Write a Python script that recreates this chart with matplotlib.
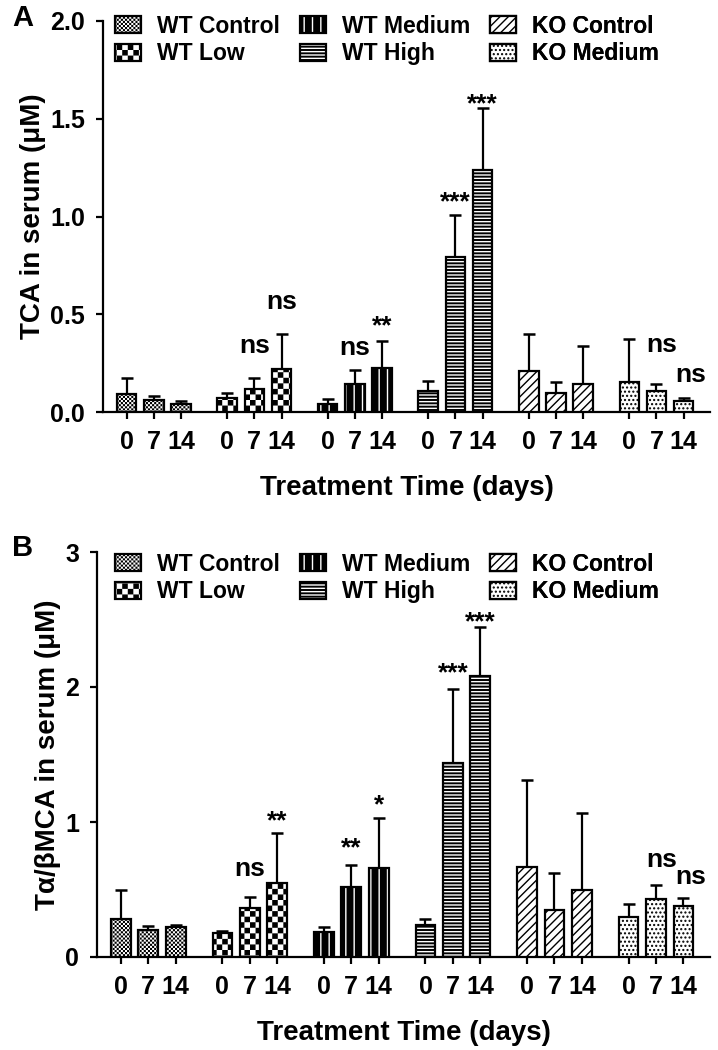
import warnings
import numpy as np
import matplotlib
matplotlib.use("Agg")
import matplotlib.pyplot as plt
from matplotlib import hatch as mhatch
from matplotlib.path import Path
from matplotlib.patches import Patch
from matplotlib.legend_handler import HandlerTuple

warnings.filterwarnings("ignore")
plt.rcParams['font.family'] = ['Liberation Sans', 'DejaVu Sans']
plt.rcParams['font.weight'] = 'bold'
plt.rcParams['hatch.linewidth'] = 1.0

groups = ["WT Control", "WT Low", "WT Medium", "WT High", "KO Control", "KO Medium"]
days = ["0", "7", "14"]

# panel A: TCA in serum (uM), mean and upper SD per group (days 0, 7, 14)
tca_mean = [[0.09, 0.06, 0.04], [0.07, 0.12, 0.22], [0.04, 0.145, 0.225],
            [0.105, 0.795, 1.24], [0.21, 0.095, 0.145], [0.155, 0.105, 0.055]]
tca_err = [[0.085, 0.02, 0.015], [0.025, 0.055, 0.18], [0.025, 0.07, 0.14],
           [0.055, 0.215, 0.315], [0.19, 0.06, 0.195], [0.22, 0.04, 0.015]]
# (group, day) -> label
tca_sig = {(1, 1): "ns", (1, 2): "ns", (2, 1): "ns", (2, 2): "**",
           (3, 1): "***", (3, 2): "***", (5, 1): "ns", (5, 2): "ns"}

# panel B: Talpha/beta MCA in serum (uM)
mca_mean = [[0.28, 0.2, 0.22], [0.175, 0.36, 0.545], [0.185, 0.515, 0.66],
            [0.235, 1.44, 2.08], [0.67, 0.35, 0.5], [0.3, 0.43, 0.38]]
mca_err = [[0.215, 0.03, 0.02], [0.015, 0.085, 0.37], [0.035, 0.165, 0.37],
           [0.05, 0.545, 0.365], [0.64, 0.27, 0.57], [0.09, 0.1, 0.06]]
mca_sig = {(1, 1): "ns", (1, 2): "**", (2, 1): "**", (2, 2): "*",
           (3, 1): "***", (3, 2): "***", (5, 1): "ns", (5, 2): "ns"}

# label placement above the error cap (dx, dy in points)
tca_off = {(1, 1): (0, 23), (1, 2): (0, 23), (2, 1): (0, 16), (2, 2): (0, 10),
           (3, 1): (0, 9), (3, 2): (0, 3), (5, 1): (4, 28), (5, 2): (5, 17)}
mca_off = {(1, 1): (0, 20), (1, 2): (0, 9), (2, 1): (0, 12), (2, 2): (0, 9),
           (3, 1): (0, 11), (3, 2): (0, 3), (5, 1): (4, 18), (5, 2): (5, 15)}


class CheckerHatch(mhatch.HatchPatternBase):
    """'c' in a hatch string -> filled checkerboard, density cells per 'c'."""

    def __init__(self, hatch, density):
        self.num_cells = hatch.count('c') * density
        self.num_vertices = (self.num_cells ** 2 // 2) * 5

    def set_vertices_and_codes(self, vertices, codes):
        n = self.num_cells
        step = 1.0 / n
        inset = 0.007  # stroke of the hatch line widens each square
        k = 0
        for i in range(n):
            for j in range(n):
                if (i + j) % 2:
                    continue
                x0, y0 = i * step + inset, j * step + inset
                x1, y1 = (i + 1) * step - inset, (j + 1) * step - inset
                vertices[k:k + 5] = [[x0, y0], [x1, y0], [x1, y1], [x0, y1], [x0, y0]]
                codes[k:k + 5] = [Path.MOVETO, Path.LINETO, Path.LINETO,
                                  Path.LINETO, Path.CLOSEPOLY]
                k += 5


mhatch._hatch_types.append(CheckerHatch)

# (face, hatch colour, hatch)
styles = {
    "WT Control": ("white", "black", "cccccccc"),
    "WT Low": ("white", "black", "ccc"),
    "WT Medium": ("black", "white", "||"),
    "WT High": ("black", "white", "-----"),
    "KO Control": ("white", "black", "////"),
    "KO Medium": ("white", "black", "...."),
}

GAP = 3.7
WIDTH = 0.72
W, H = 718, 1050


def draw_panel(ax, means, errs, sig, offs, ylim, yticks, yfmt, ylabel, legend_y):
    pos = []
    for g, name in enumerate(groups):
        x = g * GAP + np.arange(3)
        pos.extend(x)
        face, hcol, hatch = styles[name]
        ax.bar(x, means[g], WIDTH, color=face, edgecolor=hcol, hatch=hatch,
               linewidth=0, zorder=3)
        ax.bar(x, means[g], WIDTH, color='none', edgecolor='black',
               linewidth=1.6, zorder=4)
        ax.errorbar(x, means[g], yerr=[np.zeros(3), errs[g]], fmt='none',
                    ecolor='black', elinewidth=1.6, capsize=4.5, capthick=1.8,
                    zorder=2)
    for (g, i), lab in sig.items():
        top = means[g][i] + errs[g][i]
        star = lab.startswith("*")
        ax.annotate(lab, (g * GAP + i, top), xytext=offs[(g, i)],
                    textcoords='offset points', ha='center', va='center',
                    fontsize=19 if star else 19, fontweight='bold')
    ax.set_xticks(pos)
    ax.set_xticklabels(days * len(groups))
    ax.set_xlim(-0.87, (len(groups) - 1) * GAP + 2 + 0.97)
    ax.set_ylim(*ylim)
    ax.set_yticks(yticks)
    ax.set_yticklabels([yfmt.format(t) for t in yticks])
    for s in ['top', 'right']:
        ax.spines[s].set_visible(False)
    for s in ['left', 'bottom']:
        ax.spines[s].set_linewidth(1.6)
    ax.tick_params(direction='out', length=5, width=1.6, labelsize=18, pad=8)
    ax.set_xlabel("Treatment Time (days)", fontsize=20, fontweight='bold', labelpad=15)
    ax.set_ylabel(ylabel, fontsize=20, fontweight='bold', labelpad=3)

    handles = []
    for name in groups:
        face, hcol, hatch = styles[name]
        handles.append((Patch(facecolor=face, edgecolor=hcol, hatch=hatch, linewidth=0),
                        Patch(facecolor='none', edgecolor='black', linewidth=1.6)))
    # one small legend per column, as in the original figure
    for c, xpx in enumerate([115, 300, 490]):
        leg = ax.legend(handles[2 * c:2 * c + 2], groups[2 * c:2 * c + 2],
                        loc='center left', bbox_to_anchor=(xpx / W, 1 - legend_y / H),
                        bbox_transform=ax.figure.transFigure, frameon=False,
                        fontsize=16.5, handlelength=1.13, handleheight=0.75,
                        handletextpad=0.7, labelspacing=0.2, borderpad=0,
                        borderaxespad=0,
                        handler_map={tuple: HandlerTuple(ndivide=1, pad=0)})
        ax.add_artist(leg)


fig = plt.figure(figsize=(W / 100, H / 100), dpi=100)
axA = fig.add_axes([103 / W, 1 - 412 / H, (710 - 103) / W, (412 - 21) / H])
axB = fig.add_axes([97 / W, 1 - 957 / H, (710 - 97) / W, (957 - 552) / H])

draw_panel(axA, tca_mean, tca_err, tca_sig, tca_off, (0, 2.0), [0, 0.5, 1.0, 1.5, 2.0],
           "{:.1f}", "TCA in serum (\u03bcM)", 40)
draw_panel(axB, mca_mean, mca_err, mca_sig, mca_off, (0, 3), [0, 1, 2, 3], "{:d}",
           "T\u03b1/\u03b2MCA in serum (\u03bcM)", 578)

fig.text(12 / W, 1 - 18 / H, "A", fontsize=21, fontweight='bold', ha='left', va='center')
fig.text(12 / W, 1 - 548 / H, "B", fontsize=21, fontweight='bold', ha='left', va='center')

fig.savefig("out.png", dpi=100)
